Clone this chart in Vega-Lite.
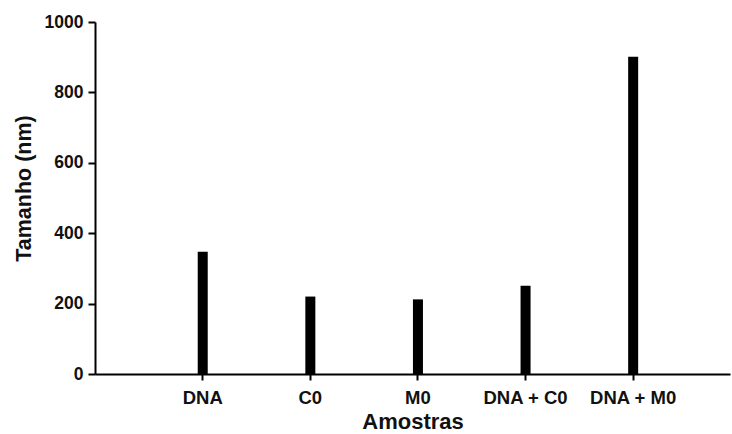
{
  "$schema": "https://vega.github.io/schema/vega-lite/v6.json",
  "width": 635,
  "height": 352,
  "autosize": {"type": "none"},
  "padding": {"left": 95, "top": 22, "right": 2, "bottom": 60},
  "background": "white",
  "config": {
    "view": {"stroke": null},
    "font": "Liberation Sans",
    "axis": {
      "domainColor": "black",
      "domainWidth": 2,
      "tickColor": "black",
      "tickWidth": 2,
      "grid": false,
      "labelColor": "#111",
      "labelFont": "Liberation Sans",
      "labelFontWeight": "bold",
      "titleFont": "Liberation Sans",
      "titleFontWeight": "bold",
      "titleColor": "#111"
    }
  },
  "data": {
    "values": [
      {"amostra": "DNA", "tamanho": 347},
      {"amostra": "C0", "tamanho": 220},
      {"amostra": "M0", "tamanho": 212},
      {"amostra": "DNA + C0", "tamanho": 251},
      {"amostra": "DNA + M0", "tamanho": 901}
    ]
  },
  "mark": {"type": "bar", "color": "black"},
  "encoding": {
    "x": {
      "field": "amostra",
      "type": "nominal",
      "sort": null,
      "scale": {"paddingInner": 0.907, "paddingOuter": 0.904, "align": 0.528},
      "axis": {"title": "Amostras", "labelAngle": 0, "tickSize": 6, "labelPadding": 8, "labelFontSize": 18.5, "titleFontSize": 22, "titlePadding": 5}
    },
    "y": {
      "field": "tamanho",
      "type": "quantitative",
      "scale": {"domain": [0, 1000], "nice": false},
      "axis": {"title": "Tamanho (nm)", "format": "d", "values": [0, 200, 400, 600, 800, 1000], "tickSize": 7, "labelPadding": 5, "labelFontSize": 17.5, "titleFontSize": 21.5, "titlePadding": 9, "titleY": 166}
    }
  }
}
